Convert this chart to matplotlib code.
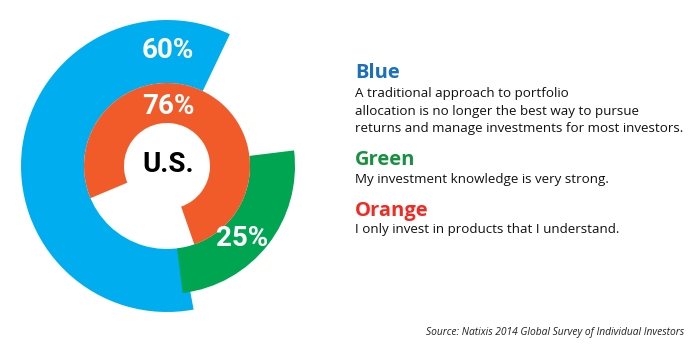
import matplotlib.pyplot as plt
from matplotlib.patches import Wedge

# survey shares (percent)
ring_names = ["Blue", "Green", "Orange"]
ring_values = [60, 25, 76]
ring_labels = ["60%", "25%", "76%"]
center_label = "U.S."

statements = [
    "A traditional approach to portfolio\nallocation is no longer the best way to pursue\nreturns and manage investments for most investors.",
    "My investment knowledge is very strong.",
    "I only invest in products that I understand.",
]
source = "Source: Natixis 2014 Global Survey of Individual Investors"

ring_colors = ["#00aeef", "#00a551", "#f15a29"]
head_colors = ["#1c6fbd", "#17903f", "#ef2b24"]

plt.rcParams['font.family'] = ['Open Sans', 'DejaVu Sans']
cond = ['Roboto', 'DejaVu Sans']

fig = plt.figure(figsize=(7, 3.54), dpi=100)
ax = fig.add_axes([0, 0, 1, 1])
ax.set_xlim(0, 700)
ax.set_ylim(354, 0)
ax.axis("off")

cx, cy = 167, 166
# (outer radius, width, start angle, direction) - y is flipped, so
# data angles run clockwise on screen
geom = {
    "Blue": (146, 63, -64.5, -1),
    "Green": (128, 45, -7, 1),
    "Orange": (83, 40, 70.8, -1),
}
label_pos = {"Blue": (168, 51), "Green": (242, 238), "Orange": (168, 106)}

for name, val, lab, col in zip(ring_names, ring_values, ring_labels, ring_colors):
    r, w, start, d = geom[name]
    span = val / 100 * 360
    a1, a2 = sorted([start, start + d * span])
    ax.add_patch(Wedge((cx, cy), r, a1, a2, width=w, color=col, lw=0))
    x, y = label_pos[name]
    ax.text(x, y, lab, color="white", fontsize=20, fontweight="bold",
            family=cond, ha="center", va="center")

ax.text(168, 164, center_label, color="black", fontsize=20, fontweight="bold",
        family=cond, ha="center", va="center")

heads_y = [73, 160, 211]
body_y = [87, 173, 223]
for name, col, txt, hy, by in zip(ring_names, head_colors, statements, heads_y, body_y):
    ax.text(355, hy, name, color=col, fontsize=14.5, fontweight="bold",
            ha="left", va="center")
    ax.text(355, by, txt, color="#111111", fontsize=9.6, ha="left", va="top",
            linespacing=1.45)

ax.text(684, 333, source, color="#222222", fontsize=7.4, style="italic",
        ha="right", va="center")

fig.savefig("out.png", dpi=100)
